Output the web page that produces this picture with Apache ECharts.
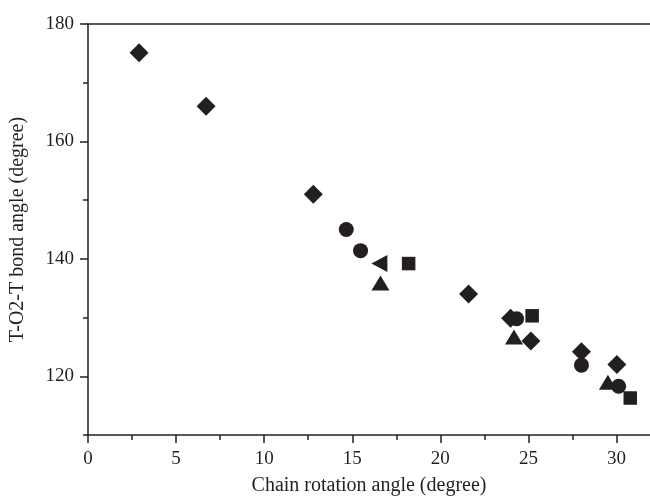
<!DOCTYPE html>
<html>
<head>
<meta charset="utf-8">
<script src="https://cdn.jsdelivr.net/npm/echarts@6/dist/echarts.min.js"></script>
<style>html,body{margin:0;padding:0;background:#fff}#c{width:650px;height:501px}</style>
</head>
<body>
<div id="c"></div>
<script>
// Data (x: chain rotation angle, y: T-O2-T bond angle)
var diamondX = [2.90, 6.70, 12.79, 21.60, 23.99, 25.14, 28.01, 30.02];
var diamondY = [175.1, 166.0, 151.0, 134.0, 129.9, 126.0, 124.2, 122.0];
var circleX = [14.66, 15.47, 24.33, 28.01, 30.12];
var circleY = [145.0, 141.4, 129.8, 121.9, 118.3];
var squareX = [18.20, 25.21, 30.78];
var squareY = [139.2, 130.3, 116.3];
var triUpX = [16.60, 24.18, 29.51];
var triUpY = [135.9, 126.7, 119.0];
var triLeftX = [16.54];
var triLeftY = [139.2];

var xMajorTicks = [0, 5, 10, 15, 20, 25, 30];
var xMinorTicks = [2.5, 7.5, 12.5, 17.5, 22.5, 27.5];
var yMajorTicks = [120, 140, 160, 180];
var yMinorTicks = [110, 130, 150, 170];

var xTitle = 'Chain rotation angle (degree)';
var yTitle = 'T-O2-T bond angle (degree)';

function pairs(xs, ys) { return xs.map(function (x, i) { return [x, ys[i]]; }); }

var ink = '#231f20';
var font = 'Liberation Serif';

var chart = echarts.init(document.getElementById('c'), null, { renderer: 'canvas' });
var lineStyle = { color: ink, width: 1.5 };
chart.setOption({
  animation: false,
  backgroundColor: '#fff',
  grid: { left: 86.5, right: 0, top: 24, bottom: 62, containLabel: false },
  xAxis: [
    {
      type: 'value', position: 'bottom', min: 0, max: 31.9,
      axisLine: { show: true, onZero: false, lineStyle: lineStyle },
      axisTick: { show: true, inside: false, length: 8, lineStyle: lineStyle, customValues: xMajorTicks },
      axisLabel: { show: true, margin: 15, color: ink, fontFamily: font, fontSize: 19, customValues: xMajorTicks },
      splitLine: { show: false },
      name: xTitle, nameLocation: 'middle', nameGap: 41,
      nameTextStyle: { color: ink, fontFamily: font, fontSize: 20 }
    },
    {
      type: 'value', position: 'bottom', min: 0, max: 31.9,
      axisLine: { show: false },
      axisTick: { show: true, inside: false, length: 5, lineStyle: lineStyle, customValues: xMinorTicks },
      axisLabel: { show: false },
      splitLine: { show: false }
    },
    {
      type: 'value', position: 'top', min: 0, max: 31.9,
      axisLine: { show: true, onZero: false, lineStyle: lineStyle },
      axisTick: { show: false },
      axisLabel: { show: false },
      splitLine: { show: false }
    }
  ],
  yAxis: [
    {
      type: 'value', position: 'left', min: 110, max: 180,
      axisLine: { show: true, onZero: false, lineStyle: lineStyle },
      axisTick: { show: true, inside: false, length: 8, lineStyle: lineStyle, customValues: yMajorTicks },
      axisLabel: { show: true, margin: 14, color: ink, fontFamily: font, fontSize: 19, customValues: yMajorTicks },
      splitLine: { show: false },
      name: yTitle, nameLocation: 'middle', nameGap: 60, nameRotate: 90,
      nameTextStyle: { color: ink, fontFamily: font, fontSize: 20 }
    },
    {
      type: 'value', position: 'left', min: 110, max: 180,
      axisLine: { show: false },
      axisTick: { show: true, inside: false, length: 5, lineStyle: lineStyle, customValues: yMinorTicks },
      axisLabel: { show: false },
      splitLine: { show: false }
    }
  ],
  series: [
    { type: 'scatter', symbol: 'diamond', symbolSize: [19, 19], itemStyle: { color: ink, opacity: 1 }, data: pairs(diamondX, diamondY) },
    { type: 'scatter', symbol: 'circle', symbolSize: 15, itemStyle: { color: ink, opacity: 1 }, data: pairs(circleX, circleY) },
    { type: 'scatter', symbol: 'rect', symbolSize: 13.5, itemStyle: { color: ink, opacity: 1 }, data: pairs(squareX, squareY) },
    { type: 'scatter', symbol: 'triangle', symbolSize: [18, 15], itemStyle: { color: ink, opacity: 1 }, data: pairs(triUpX, triUpY) },
    { type: 'scatter', symbol: 'triangle', symbolRotate: 90, symbolSize: [17, 16], itemStyle: { color: ink, opacity: 1 }, data: pairs(triLeftX, triLeftY) }
  ]
});
</script>
</body>
</html>
